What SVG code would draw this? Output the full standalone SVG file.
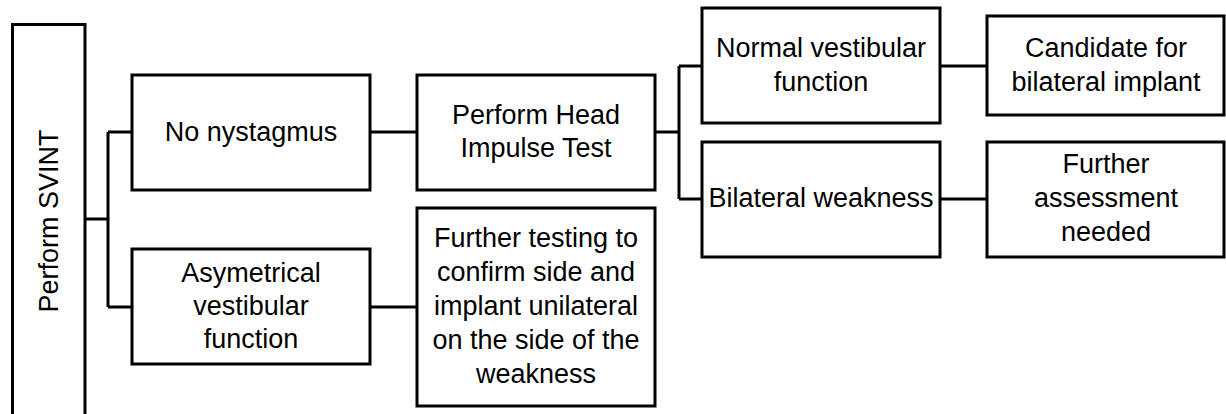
<svg xmlns="http://www.w3.org/2000/svg" width="1226" height="414" viewBox="0 0 1226 414">
<style>
.box{fill:#fff;stroke:#000;stroke-width:3}
.ln{fill:none;stroke:#000;stroke-width:3}
text{font-family:"Liberation Sans",Arial,sans-serif;font-size:27px;fill:#000;text-anchor:middle}
</style>
<rect width="1226" height="414" fill="#fff"/>
<g id="connectors">
<path class="ln" d="M85,219 H108 M108,132 V307 M108,132 H132 M108,307 H132"/>
<path class="ln" d="M370,132 H417 M370,307 H417"/>
<path class="ln" d="M655,132 H679 M679,66 V199 M679,66 H702 M679,199 H702"/>
<path class="ln" d="M940,66 H987 M940,199 H987"/>
</g>
<g id="svint">
<path class="box" d="M12.5,416 V24.5 H85 V416"/>
<text transform="translate(58,221) rotate(-90)">Perform SVINT</text>
</g>
<g id="no-nystagmus">
<rect class="box" x="132" y="75" width="238" height="115"/>
<text x="251" y="141">No nystagmus</text>
</g>
<g id="asymetrical">
<rect class="box" x="132" y="249" width="238" height="115"/>
<text x="251" y="282">Asymetrical</text>
<text x="251" y="315">vestibular</text>
<text x="251" y="348">function</text>
</g>
<g id="head-impulse">
<rect class="box" x="417" y="75" width="238" height="115"/>
<text x="536" y="124">Perform Head</text>
<text x="536" y="157">Impulse Test</text>
</g>
<g id="further-testing">
<rect class="box" x="417" y="208" width="238" height="198"/>
<text x="536" y="247">Further testing to</text>
<text x="536" y="281">confirm side and</text>
<text x="536" y="315">implant unilateral</text>
<text x="536" y="349">on the side of the</text>
<text x="536" y="383">weakness</text>
</g>
<g id="normal">
<rect class="box" x="702" y="8" width="238" height="115"/>
<text x="821" y="57">Normal vestibular</text>
<text x="821" y="91">function</text>
</g>
<g id="bilateral-weakness">
<rect class="box" x="702" y="142" width="238" height="115"/>
<text x="821" y="207">Bilateral weakness</text>
</g>
<g id="candidate">
<rect class="box" x="987" y="16" width="237" height="99"/>
<text x="1106" y="57">Candidate for</text>
<text x="1106" y="91">bilateral implant</text>
</g>
<g id="further-assessment">
<rect class="box" x="987" y="142" width="237" height="115"/>
<text x="1106" y="173">Further</text>
<text x="1106" y="207">assessment</text>
<text x="1106" y="241">needed</text>
</g>
</svg>
